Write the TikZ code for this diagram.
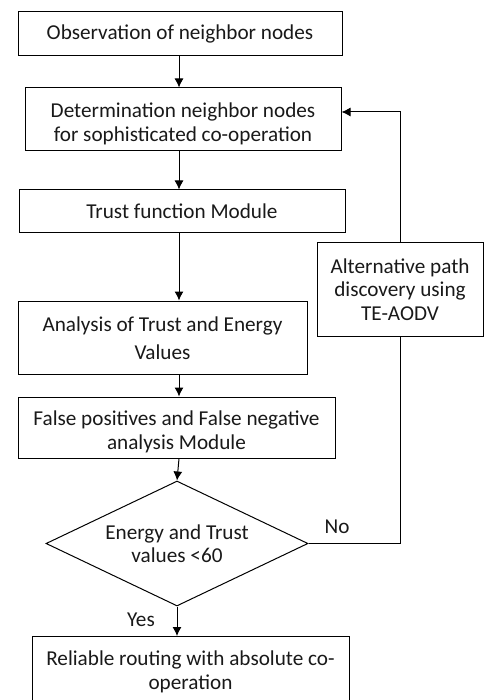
\documentclass[tikz,border=0pt]{standalone}
\usepackage{fontspec}
\setmainfont{Carlito}
\usetikzlibrary{arrows.meta,shapes.geometric}
\begin{document}
\begin{tikzpicture}[x=1pt,y=-1pt,
  every node/.style={font=\fontsize{21.2}{23.5}\selectfont, text=black!90},
  box/.style={draw, line width=1pt, align=center, inner sep=0pt},
  dec/.style={draw, line width=1pt, diamond, aspect=2.096, align=center, inner sep=0pt},
  arr/.style={line width=1pt, -{Latex[length=9pt,width=9pt]}},
  ln/.style={line width=1pt}]
\useasboundingbox (0,0) rectangle (484,700);
\coordinate (spine) at (179,0);
\node[box, minimum width=324pt, minimum height=44pt] (b1) at (180,33.5) {Observation of neighbor nodes};
\node[box, minimum width=316pt, minimum height=63pt,
  label={[align=center, yshift=-4.5pt]center:Determination neighbor nodes\\for sophisticated co-operation}] (b2) at (183,119.5) {};
\node[box, minimum width=326pt, minimum height=43pt] (b3) at (182,211.5) {Trust function Module};
\node[box, minimum width=289pt, minimum height=73pt,
  label={[align=center, font=\fontsize{21.2}{27.5}\selectfont, yshift=-0.5pt]center:Analysis of Trust and Energy\\Values}] (b4) at (162.5,337.5) {};
\node[box, minimum width=317pt, minimum height=61pt,
  label={[align=center, yshift=-4.5pt]center:False positives and False negative\\analysis Module}] (b5) at (176.5,427.5) {};
\node[dec, minimum width=262pt, minimum height=125pt] (d) at (177,543.5) {Energy and Trust\\values <60};
\node[box, minimum width=317pt, minimum height=71pt] (b6) at (190.5,672) {Reliable routing with absolute co-\\operation};
\node[box, minimum width=166pt, minimum height=93pt] (side) at (400,289.5) {Alternative path\\discovery using\\TE-AODV};
\node (no) at (337,527) {No};
\node (yes) at (141,620) {Yes};
\coordinate (sx) at (400,0);
\draw[arr] (spine |- b1.south) -- (spine |- b2.north);
\draw[arr] (spine |- b2.south) -- (spine |- b3.north);
\draw[arr] (spine |- b3.south) -- (spine |- b4.north);
\draw[arr] (spine |- b4.south) -- (spine |- b5.north);
\draw[arr] (spine |- b5.south) -- (d.north);
\draw[arr] (d.south) -- (d.south |- b6.north);
\draw[ln] (d.east) -- (sx |- d.east) -- (sx |- side.south);
\draw[arr] (sx |- side.north) |- ([yshift=7.5pt]b2.east);
\end{tikzpicture}
\end{document}
